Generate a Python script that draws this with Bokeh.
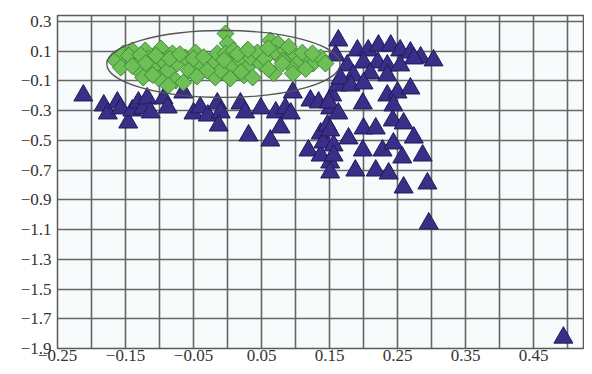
import math
from bokeh.plotting import figure
from bokeh.models import Range1d, FixedTicker
from bokeh.embed import file_html
from bokeh.resources import INLINE

# ---- data ----
tri_x = [-0.212, -0.182, -0.176, -0.162, -0.157, -0.146, -0.140, -0.131, -0.124, -0.118,
         -0.113, -0.094, -0.088, -0.065, -0.050, -0.040, -0.029, -0.015, -0.010, -0.013,
         0.019, 0.026, 0.031, 0.049, 0.063, 0.071, 0.078, 0.085, 0.096, 0.093,
         0.122, 0.134, 0.119, 0.137, 0.147, 0.151, 0.154, 0.137, 0.151, 0.141,
         0.156, 0.151, 0.162,
         0.163, 0.159, 0.191, 0.207, 0.222, 0.240, 0.254, 0.269, 0.284, 0.303,
         0.274, 0.176, 0.200, 0.221, 0.235, 0.254, 0.185, 0.210, 0.235, 0.166,
         0.181, 0.200, 0.235, 0.250, 0.269, 0.199, 0.244, 0.149,
         0.163, 0.151, 0.178, 0.200, 0.218, 0.243, 0.259, 0.274, 0.199, 0.228,
         0.244, 0.257, 0.287, 0.188, 0.218, 0.237, 0.259, 0.294, 0.156,
         0.296, 0.494]
tri_y = [-0.198, -0.265, -0.319, -0.245, -0.285, -0.380, -0.299, -0.245, -0.285, -0.218,
         -0.312, -0.218, -0.279, -0.178, -0.319, -0.279, -0.333, -0.252, -0.312, -0.400,
         -0.252, -0.312, -0.467, -0.285, -0.501, -0.312, -0.413, -0.285, -0.178, -0.319,
         -0.232, -0.245, -0.568, -0.454, -0.400, -0.285, -0.198, -0.602, -0.649, -0.514,
         -0.534, -0.716, -0.131,
         0.172, 0.071, 0.105, 0.105, 0.138, 0.138, 0.105, 0.091, 0.058, 0.038,
         0.051, 0.004, 0.024, 0.024, 0.004, 0.004, -0.063, -0.050, -0.063, -0.084,
         -0.131, -0.117, -0.198, -0.178, -0.151, -0.252, -0.265, -0.245,
         -0.319, -0.433, -0.487, -0.420, -0.420, -0.366, -0.386, -0.481, -0.568, -0.568,
         -0.521, -0.615, -0.602, -0.703, -0.703, -0.723, -0.817, -0.790, -0.602,
         -1.059, -1.827]

dia_x = [-0.165, -0.153, -0.157, -0.140, -0.135, -0.131, -0.121, -0.116, -0.124, -0.110,
         -0.098, -0.096, -0.101, -0.088, -0.081, -0.074, -0.076, -0.062, -0.057, -0.065,
         -0.047, -0.043, -0.022, -0.018, -0.015, -0.087,
         -0.003, 0.000, -0.003, 0.009, -0.010, 0.007, 0.019, 0.004, 0.024, 0.029,
         0.034, 0.044, 0.049, 0.063, 0.074, 0.071, 0.085, 0.082, 0.096, 0.097,
         0.107, 0.096, 0.118, 0.126, 0.137, 0.144, 0.068, 0.081, 0.037,
         -0.145, -0.128, -0.105, -0.085, -0.070, -0.050, -0.035, -0.030, -0.045, -0.110,
         -0.140, -0.120, 0.015, 0.030, 0.055, 0.060, 0.090, 0.110, 0.125, 0.115,
         0.060, 0.020, -0.005]
dia_y = [0.038, 0.085, -0.010, 0.105, 0.038, -0.030, 0.105, 0.051, -0.077, -0.016,
         0.118, 0.038, -0.084, -0.030, 0.085, 0.017, -0.097, 0.058, -0.030, -0.111,
         0.091, 0.017, 0.017, -0.077, 0.085, -0.131,
         0.219, 0.152, 0.085, 0.105, -0.030, 0.004, 0.038, -0.084, -0.063, -0.010,
         0.058, 0.091, 0.017, 0.172, 0.152, 0.085, 0.105, 0.038, -0.010, 0.085,
         0.038, -0.050, 0.058, 0.017, 0.058, 0.017, -0.050, 0.017, -0.077,
         0.070, 0.075, 0.070, 0.050, 0.080, 0.050, 0.060, -0.030, -0.070, -0.060,
         0.000, 0.020, 0.080, 0.110, 0.050, 0.120, 0.130, 0.090, 0.085, -0.020,
         -0.020, -0.040, 0.040]

ell_x = [-0.006]
ell_y = [0.014]
ell_w = [0.343]
ell_h = [0.45]

x_ticks = [-0.25, -0.15, -0.05, 0.05, 0.15, 0.25, 0.35, 0.45]
x_minor = [-0.2, -0.1, 0.0, 0.1, 0.2, 0.3, 0.4, 0.5]
x_labels = ["\u22120.25", "\u22120.15", "\u22120.05", "0.05", "0.15", "0.25", "0.35", "0.45"]
y_ticks = [-1.9, -1.7, -1.5, -1.3, -1.1, -0.9, -0.7, -0.5, -0.3, -0.1, 0.1, 0.3]
y_labels = ["\u22121.9", "\u22121.7", "\u22121.5", "\u22121.3", "\u22121.1", "\u22120.9",
            "\u22120.7", "\u22120.5", "\u22120.3", "\u22120.1", "0.1", "0.3"]

FONT = "Liberation Serif"
GRID = "#666666"

p = figure(width=584, height=366, output_backend="svg", toolbar_location=None,
           x_range=Range1d(-0.25, 0.525), y_range=Range1d(-1.9, 0.34),
           min_border_left=57, min_border_right=0, min_border_top=15, min_border_bottom=18)
p.background_fill_color = "#f7fbfb"
p.border_fill_color = "white"
p.outline_line_color = "#5a5a5a"
p.outline_line_width = 1.5

p.xaxis.ticker = FixedTicker(ticks=x_ticks, minor_ticks=x_minor)
p.yaxis.ticker = FixedTicker(ticks=y_ticks)
p.xaxis.major_label_overrides = {t: s for t, s in zip(x_ticks, x_labels)}
p.yaxis.major_label_overrides = {t: s for t, s in zip(y_ticks, y_labels)}
for ax in (p.xaxis, p.yaxis):
    ax.axis_line_color = None
    ax.major_tick_line_color = None
    ax.minor_tick_line_color = None
    ax.major_tick_out = 0
    ax.major_tick_in = 0
    ax.minor_tick_out = 0
    ax.minor_tick_in = 0
    ax.major_label_text_font = FONT
    ax.major_label_text_font_size = "17px"
    ax.major_label_text_color = "#333333"
p.xaxis.major_label_standoff = 1
p.yaxis.major_label_standoff = 6

p.xgrid.grid_line_color = GRID
p.xgrid.grid_line_width = 1.6
p.xgrid.minor_grid_line_color = GRID
p.xgrid.minor_grid_line_width = 1.6
p.ygrid.grid_line_color = GRID
p.ygrid.grid_line_width = 1.6

p.scatter(tri_x, tri_y, marker="triangle", size=19,
          fill_color="#3b2e88", line_color="#221957", line_width=1)
p.scatter(dia_x, dia_y, marker="square", size=12, angle=math.pi / 4,
          fill_color="#6dbf56", line_color="#3f8a38", line_width=1)
p.ellipse(x=ell_x, y=ell_y, width=ell_w, height=ell_h,
          fill_color=None, line_color="#555555", line_width=1.3)

open("out.html", "w").write(file_html(p, INLINE))
